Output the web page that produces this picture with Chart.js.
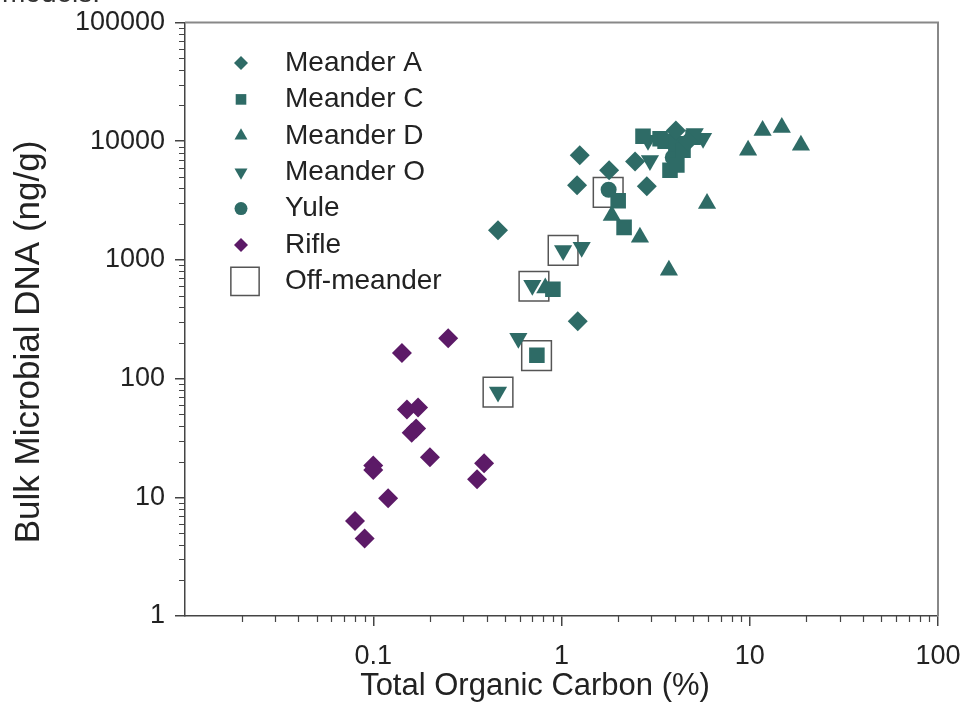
<!DOCTYPE html>
<html>
<head>
<meta charset="utf-8">
<script src="https://cdn.jsdelivr.net/npm/chart.js@4"></script>
<style>
  body { margin: 0; background: #fff; overflow: hidden; }
  #wrap { position: relative; width: 965px; height: 719px; }
  #cut { position: absolute; left: 2px; top: -23px; font: 28px "Liberation Sans", Arial, sans-serif; color: #333; }
</style>
</head>
<body>
<div id="wrap">
  <canvas id="dna-chart" width="965" height="719"></canvas>
  <div id="cut">models.</div>
</div>
<script>
// Axis ticks
const xTicks = [0.1, 1, 10, 100];
const yTicks = [1, 10, 100, 1000, 10000, 100000];

// Series (TOC %, DNA ng/g)
const meanderA_toc = [0.46, 1.22, 1.25, 1.21, 1.79, 2.46, 2.84, 4.05, 4.7];
const meanderA_dna = [1780, 304, 7600, 4250, 5680, 6760, 4170, 12300, 10000];

const meanderC_toc = [0.74, 0.90, 2.0, 2.15, 2.71, 3.34, 3.55, 4.05, 3.77, 4.1, 4.42, 5.0];
const meanderC_dna = [157, 566, 3150, 1880, 11000, 10500, 10000, 9500, 5700, 6300, 8400, 10800];

const meanderD_toc = [0.82, 1.85, 2.61, 3.72, 5.93, 9.8, 11.7, 14.8, 18.7];
const meanderD_dna = [580, 2370, 1550, 817, 2990, 8370, 12300, 13060, 9230];

const meanderO_toc = [0.46, 0.59, 0.70, 1.02, 1.28, 2.88, 2.95, 5.1, 5.65];
const meanderO_dna = [77, 219, 611, 1200, 1280, 10200, 6890, 11600, 10600];

const yule_toc = [1.78, 4.3, 3.9];
const yule_dna = [3900, 9000, 7300];

const rifle_toc = [0.25, 0.142, 0.151, 0.173, 0.169, 0.160, 0.20, 0.10, 0.10, 0.388, 0.356, 0.12, 0.080, 0.090];
const rifle_dna = [219, 164, 55, 57, 38, 35, 21.8, 18.5, 17, 19.4, 14.2, 9.8, 6.3, 4.5];

const offMeander_toc = [0.46, 0.737, 0.714, 1.02, 1.77];
const offMeander_dna = [77, 156, 600, 1205, 3700];

const TEAL = '#2e6b66';
const PURPLE = '#5c1a67';
const FONT = '"Liberation Sans", Arial, sans-serif';

function pts(xs, ys) {
    return xs.map((x, i) => ({ x: x, y: ys[i] }));
}

function series(label, xs, ys, style, radius, legendRadius, color, rotation) {
    return {
        label: label,
        data: pts(xs, ys),
        pointStyle: style,
        rotation: rotation || 0,
        pointRadius: radius,
        legendRadius: legendRadius,
        backgroundColor: color,
        borderColor: color,
        borderWidth: 0,
        pointBorderWidth: 0
    };
}

const datasets = [
    series('Meander A', meanderA_toc, meanderA_dna, 'rectRot', 10, 7, TEAL),
    series('Meander C', meanderC_toc, meanderC_dna, 'rect', 11, 7.5, TEAL),
    series('Meander D', meanderD_toc, meanderD_dna, 'triangle', 10.5, 7.5, TEAL),
    series('Meander O', meanderO_toc, meanderO_dna, 'triangle', 10.5, 7.5, TEAL, 180),
    series('Yule', yule_toc, yule_dna, 'circle', 8, 6.5, TEAL),
    series('Rifle', rifle_toc, rifle_dna, 'rectRot', 10, 7, PURPLE),
    {
        label: 'Off-meander',
        data: pts(offMeander_toc, offMeander_dna),
        pointStyle: 'rect',
        pointRadius: 21,
        legendRadius: 20,
        backgroundColor: 'rgba(0,0,0,0)',
        borderColor: '#555',
        borderWidth: 1.5,
        pointBorderWidth: 1.5
    }
];

// Frame, minor ticks, axis titles and legend
const extras = {
    id: 'extras',
    afterDraw(chart) {
        const ctx = chart.ctx;
        const a = chart.chartArea;
        const xs = chart.scales.x, ys = chart.scales.y;
        ctx.save();

        // top / right frame
        ctx.strokeStyle = '#888';
        ctx.lineWidth = 2;
        ctx.beginPath();
        ctx.moveTo(a.left, a.top);
        ctx.lineTo(a.right, a.top);
        ctx.lineTo(a.right, a.bottom);
        ctx.stroke();

        // minor ticks
        ctx.strokeStyle = '#444';
        ctx.lineWidth = 1.2;
        ctx.beginPath();
        for (let e = Math.floor(Math.log10(xs.min)); e < Math.log10(xs.max); e++) {
            for (let m = 2; m <= 9; m++) {
                const p = Math.round(xs.getPixelForValue(m * Math.pow(10, e))) + 0.5;
                ctx.moveTo(p, a.bottom);
                ctx.lineTo(p, a.bottom + 6);
            }
        }
        for (let e = Math.floor(Math.log10(ys.min)); e < Math.log10(ys.max); e++) {
            for (let m = 2; m <= 9; m++) {
                const p = Math.round(ys.getPixelForValue(m * Math.pow(10, e))) + 0.5;
                ctx.moveTo(a.left, p);
                ctx.lineTo(a.left - 6, p);
            }
        }
        ctx.stroke();

        // axis titles
        ctx.fillStyle = '#222';
        ctx.textAlign = 'center';
        ctx.textBaseline = 'middle';
        ctx.font = '31px ' + FONT;
        ctx.fillText('Total Organic Carbon (%)', 535, 686);
        ctx.save();
        ctx.translate(29, 342);
        ctx.rotate(-Math.PI / 2);
        ctx.font = '35px ' + FONT;
        ctx.fillText('Bulk Microbial DNA (ng/g)', 0, 0);
        ctx.restore();

        // legend
        ctx.textAlign = 'left';
        ctx.font = '28px ' + FONT;
        chart.data.datasets.forEach((ds, i) => {
            const y = 63 + i * 36.4;
            const last = i === chart.data.datasets.length - 1;
            ctx.fillStyle = ds.backgroundColor;
            ctx.strokeStyle = ds.borderColor;
            ctx.lineWidth = ds.borderWidth;
            Chart.helpers.drawPoint(ctx, {
                pointStyle: ds.pointStyle,
                rotation: ds.rotation || 0,
                radius: ds.legendRadius,
                borderWidth: ds.borderWidth
            }, last ? 245 : 241, y);
            ctx.fillStyle = '#222';
            ctx.fillText(ds.label, 285, y);
        });
        ctx.restore();
    }
};

const tickFont = { family: FONT, size: 27 };

new Chart(document.getElementById('dna-chart').getContext('2d'), {
    type: 'scatter',
    data: { datasets: datasets },
    options: {
        responsive: false,
        animation: false,
        events: [],
        layout: { padding: { top: 22, right: 27, left: 0, bottom: 0 } },
        plugins: {
            legend: { display: false },
            tooltip: { enabled: false }
        },
        scales: {
            x: {
                type: 'logarithmic',
                min: 0.01,
                max: 100,
                afterBuildTicks: scale => { scale.ticks = xTicks.map(v => ({ value: v })); },
                afterFit: scale => {
                    scale.height = 103;
                    scale.paddingLeft = 0;
                    scale.paddingRight = 0;
                },
                ticks: {
                    color: '#222',
                    font: tickFont,
                    padding: 14,
                    maxRotation: 0,
                    autoSkip: false,
                    callback: v => String(v)
                },
                grid: { drawOnChartArea: false, tickLength: 10, tickColor: '#444', lineWidth: 1.5 },
                border: { display: true, color: '#444', width: 1.5 }
            },
            y: {
                type: 'logarithmic',
                min: 1,
                max: 100000,
                afterBuildTicks: scale => { scale.ticks = yTicks.map(v => ({ value: v })); },
                afterFit: scale => {
                    scale.width = 185;
                    scale.paddingTop = 0;
                    scale.paddingBottom = 0;
                },
                ticks: {
                    color: '#222',
                    font: tickFont,
                    padding: 10,
                    autoSkip: false,
                    callback: v => String(v)
                },
                grid: { drawOnChartArea: false, tickLength: 10, tickColor: '#444', lineWidth: 1.5 },
                border: { display: true, color: '#444', width: 1.5 }
            }
        }
    },
    plugins: [extras]
});
</script>
</body>
</html>
